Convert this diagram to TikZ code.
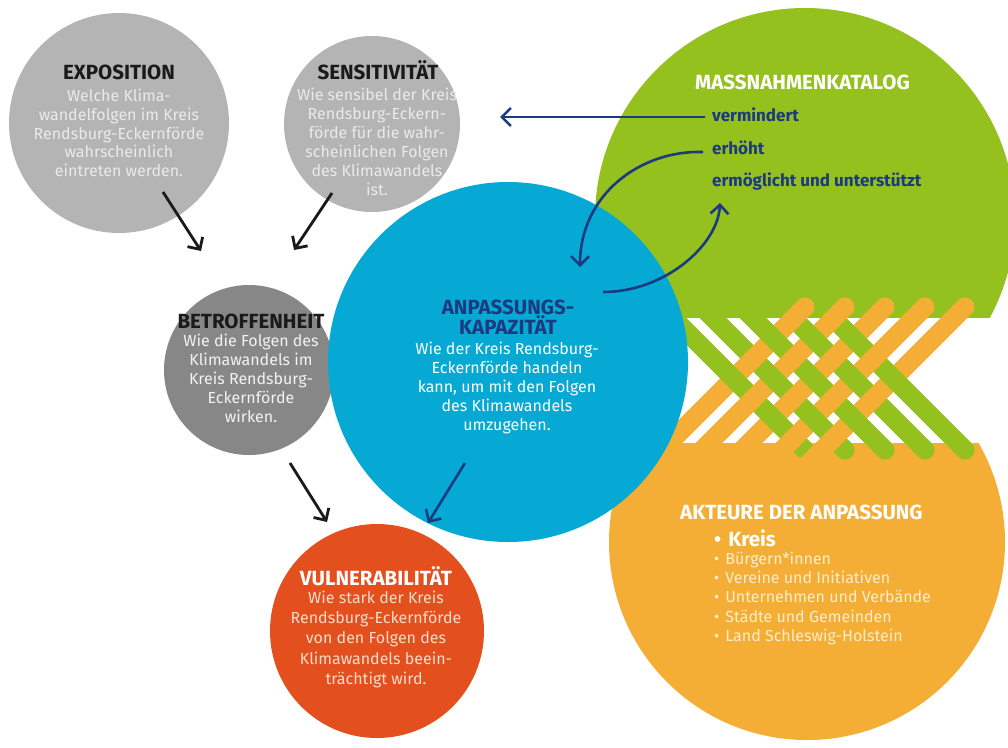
\documentclass[tikz,border=0pt]{standalone}
\usepackage{fontspec}
\setmainfont{Fira Sans}
\usetikzlibrary{arrows.meta}

\definecolor{greyA}{HTML}{B4B4B4}
\definecolor{greyB}{HTML}{878787}
\definecolor{capblue}{HTML}{05A9D4}
\definecolor{navy}{HTML}{1B3A80}
\definecolor{leaf}{HTML}{95C11F}
\definecolor{amber}{HTML}{F5AE35}
\definecolor{vermil}{HTML}{E4501D}
\definecolor{ink}{HTML}{1A1A1A}
\definecolor{paleA}{HTML}{EAEAEA}
\definecolor{paleB}{HTML}{F2F2F2}
\definecolor{peach}{HTML}{FBDCCB}
\definecolor{cream}{HTML}{FDEDCB}

\begin{document}
\begin{tikzpicture}[x=1pt,y=-1pt,
  disc/.style={circle,inner sep=0pt,minimum size=#1},
  hd/.style={inner sep=0pt,anchor=base,font=\bfseries\fontsize{20.5}{23}\selectfont},
  bd/.style={inner sep=0pt,anchor=base,font=\fontsize{16}{19}\selectfont},
  listhd/.style={inner sep=0pt,anchor=base west,font=\bfseries\fontsize{20.5}{23}\selectfont},
  item/.style={inner sep=0pt,anchor=base west,font=\bfseries\fontsize{17}{19}\selectfont,text=navy},
  actor/.style={inner sep=0pt,anchor=base west,font=\fontsize{16}{19}\selectfont,text=cream},
  blk/.style={line width=2.8pt,draw=ink,-{Straight Barb[length=9pt,width=18pt]}},
  nav/.style={line width=2.6pt,draw=navy,-{Straight Barb[length=9pt,width=18pt]}},
  gstrip/.style={line width=19pt,draw=leaf,line cap=round},
  ostrip/.style={line width=19pt,draw=amber,line cap=round},
]
\useasboundingbox (0,0) rectangle (1008,747);
\fill[white] (0,0) rectangle (1008,747);

% grey and red discs
\node[disc=220pt,fill=greyA] (expo) at (119,123) {};
\node[disc=176pt,fill=greyA] (sens) at (372,124) {};
\node[disc=170pt,fill=greyB] (betr) at (249,370) {};
\node[disc=214pt,fill=vermil] (vuln) at (377,631) {};

% green upper half-disc and orange lower half-disc
\begin{scope}
  \clip (560,0) rectangle (1008,317);
  \fill[leaf] (805,218) circle[radius=210pt];
\end{scope}
\begin{scope}
  \clip (560,443) rectangle (1008,747);
  \fill[amber] (807,542) circle[radius=198pt];
\end{scope}

% woven strips between the two half-discs
\foreach \k in {0,...,4}
  \draw[gstrip] (645+40*\k,290) -- (805+40*\k,450);
\foreach \k in {0,...,4}
  \draw[ostrip] (805+40*\k,307) -- (645+40*\k,467);
\foreach \k in {0,...,4}{
  \foreach \j in {0,...,4}{
    \pgfmathtruncatemacro{\wpar}{mod(\j+\k,2)}
    \pgfmathtruncatemacro{\wdist}{abs(\j-\k)}
    \pgfmathsetmacro{\cx}{733.5+20*(\j+\k)}
    \pgfmathsetmacro{\cy}{378.5+20*(\j-\k)}
    \ifnum\wpar=0 \ifnum\wdist<4
      \draw[leaf,line width=19pt] (\cx-7,\cy-7) -- (\cx+7,\cy+7);
    \fi\fi
  }
}

% adaptive capacity disc on top
\node[disc=360pt,fill=capblue] (anp) at (508,362) {};

% texts
\node[hd,text=ink] (expo-h) at (119,79) {EXPOSITION};
\foreach \s [count=\i from 0] in {Welche Klima-,wandelfolgen im Kreis,Rendsburg-Eckernförde,wahrscheinlich,eintreten werden.}
  \node[bd,text=paleA] (expo-\i) at (119,101.5+18.8*\i) {\s};

\node[hd,text=ink] (sens-h) at (378,79) {SENSITIVITÄT};
\foreach \s [count=\i from 0] in {Wie sensibel der Kreis,Rendsburg-Eckern-,förde für die wahr-,scheinlichen Folgen,des Klimawandels,ist.}
  \node[bd,text=paleA] (sens-\i) at (377,100.5+19*\i) {\s};

\node[hd,text=ink] (betr-h) at (251,328) {BETROFFENHEIT};
\foreach \s [count=\i from 0] in {Wie die Folgen des,Klimawandels im,Kreis Rendsburg-,Eckernförde,wirken.}
  \node[bd,text=paleB] (betr-\i) at (251,346.5+19*\i) {\s};

\node[hd,text=navy] (anp-h1) at (508,314) {ANPASSUNGS-};
\node[hd,text=navy] (anp-h2) at (508,334) {KAPAZITÄT};
\foreach \s [count=\i from 0] in {Wie der Kreis Rendsburg-,Eckernförde handeln,{kann, um mit den Folgen},des Klimawandels,umzugehen.}
  \node[bd,text=white] (anp-\i) at (507,354.5+19*\i) {\s};

\node[hd,text=white] (vuln-h) at (376,585) {VULNERABILITÄT};
\foreach \s [count=\i from 0] in {Wie stark der Kreis,Rendsburg-Eckernförde,von den Folgen des,Klimawandels beein-,trächtigt wird.}
  \node[bd,text=peach] (vuln-\i) at (376,603.5+20.2*\i) {\s};

\node[listhd,text=white] (kat-h) at (695,89) {MASSNAHMENKATALOG};
\node[item] (kat-1) at (712,121.5) {vermindert};
\node[item] (kat-2) at (712,154.5) {erhöht};
\node[item] (kat-3) at (712,186.5) {ermöglicht und unterstützt};

\node[listhd,text=white] (akt-h) at (680,519) {AKTEURE DER ANPASSUNG};
\node[listhd,text=white] (akt-0) at (714,546.5) {•\hspace{7pt}Kreis};
\foreach \s [count=\i from 1] in {Bürgern*innen,Vereine und Initiativen,Unternehmen und Verbände,Städte und Gemeinden,Land Schleswig-Holstein}
  \node[actor] (akt-\i) at (714,545+19.3*\i) {•\hspace{6pt}\s};

% arrows
\coordinate (a1s) at (163,192); \coordinate (a1e) at (201,251);
\coordinate (a2s) at (332,193); \coordinate (a2e) at (294,250);
\coordinate (a3s) at (290,463); \coordinate (a3e) at (327,522);
\coordinate (a4s) at (465,463); \coordinate (a4e) at (428,523);
\draw[blk] (a1s) -- (a1e);
\draw[blk] (a2s) -- (a2e);
\draw[blk] (a3s) -- (a3e);
\draw[nav] (a4s) -- (a4e);

\coordinate (m1s) at (705,117); \coordinate (m1e) at (500,117);
\coordinate (m2s) at (703,152); \coordinate (m2e) at (580,267);
\coordinate (m3s) at (603,292); \coordinate (m3e) at (720,203);
\draw[nav] (m1s) -- (m1e);
\draw[nav] (m2s) .. controls (640,150) and (580,195) .. (m2e);
\draw[nav] (m3s) .. controls (665,292) and (718,245) .. (m3e);
\end{tikzpicture}
\end{document}
